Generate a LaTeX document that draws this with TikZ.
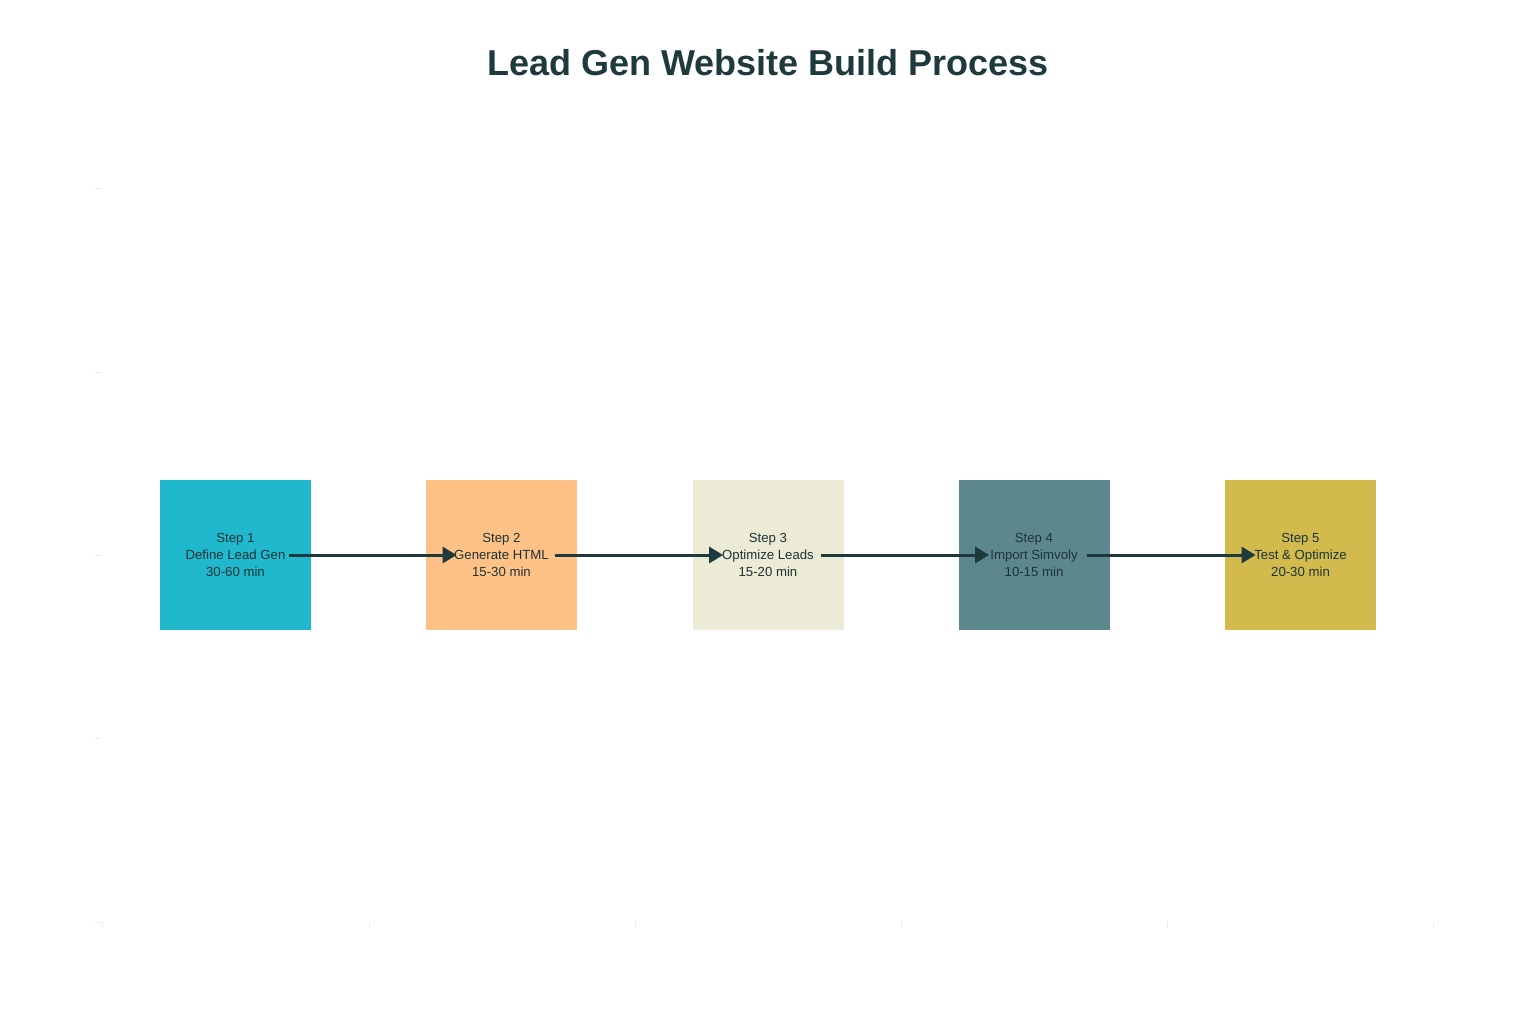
\documentclass[tikz,border=0pt]{standalone}
\usepackage{fontspec}
\setmainfont{Liberation Sans}
\usetikzlibrary{arrows.meta,calc}
\definecolor{ink}{HTML}{1F3A3D}
\definecolor{cA}{HTML}{1FB8CD}
\definecolor{cB}{HTML}{FFC185}
\definecolor{cC}{HTML}{ECEBD5}
\definecolor{cD}{HTML}{5D878F}
\definecolor{cE}{HTML}{D2BA4C}
\begin{document}
\begin{tikzpicture}[x=0.5pt,y=-0.5pt,
  box/.style={minimum width=75.5pt,minimum height=75pt,inner sep=0pt,align=center,font=\fontsize{6.6}{8.3}\selectfont,text=ink!90!black},
  conn/.style={draw=ink,line width=1.5pt,-{Triangle[length=7pt,width=8pt]}},
  tick/.style={draw=black!8,line width=0.5pt}]
\useasboundingbox (0,0) rectangle (1536,1024);
\node[font=\fontsize{18}{20}\selectfont\bfseries,text=ink] (title) at (768,63) {Lead Gen Website Build Process};
\foreach \y in {188,372,555,738,922} \draw[tick] (95,\y) -- (101,\y);
\foreach \x in {102,369,635,901,1167,1433} \draw[tick] (\x,922) -- (\x,928);
\node[box,fill=cA] (b1) at (235.5,555) {Step 1\\Define Lead Gen\\30-60 min};
\node[box,fill=cB] (b2) at (501.5,555) {Step 2\\Generate HTML\\15-30 min};
\node[box,fill=cC] (b3) at (768,555) {Step 3\\Optimize Leads\\15-20 min};
\node[box,fill=cD] (b4) at (1034,555) {Step 4\\Import Simvoly\\10-15 min};
\node[box,fill=cE] (b5) at (1300.5,555) {Step 5\\Test \& Optimize\\20-30 min};
\foreach \a/\b in {b1/b2,b2/b3,b3/b4,b4/b5}
  \draw[conn] ($(\a.center)+(53,0)$) -- ($(\b.west)+(31,0)$);
\end{tikzpicture}
\end{document}
